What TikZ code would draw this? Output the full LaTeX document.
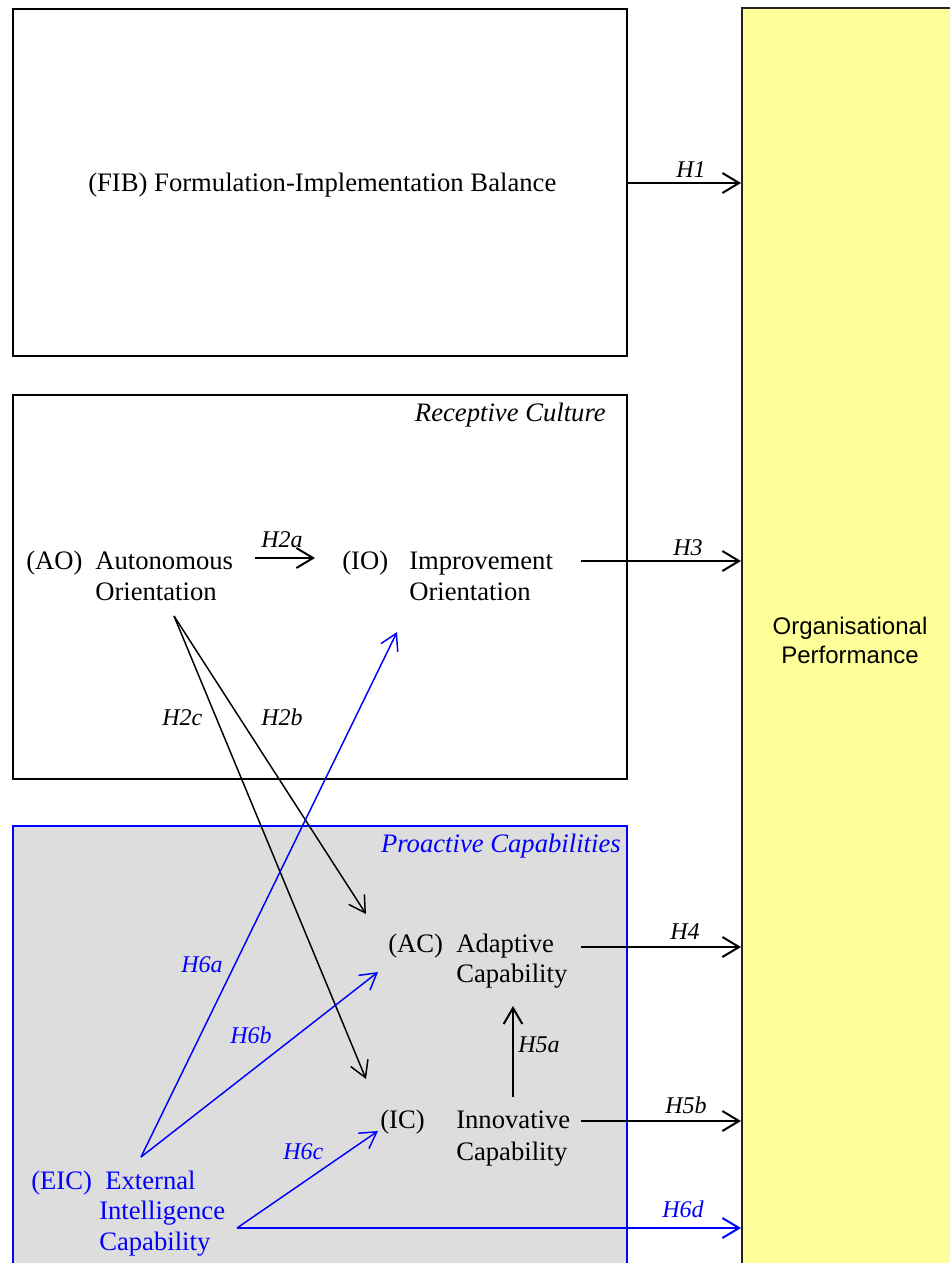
\documentclass[tikz,border=0pt]{standalone}
\usepackage{fontspec}
\setmainfont{Liberation Serif}
\newfontfamily\arialfont{Liberation Sans}
\usetikzlibrary{arrows.meta}
\definecolor{opyellow}{HTML}{FFFF99}
\definecolor{pcgray}{HTML}{DDDDDD}
\definecolor{pblue}{HTML}{0000FF}
\definecolor{opborder}{HTML}{222222}
\begin{document}
\begin{tikzpicture}[x=0.75pt,y=-0.75pt,
  maintext/.style={font=\fontsize{20}{23}\selectfont, inner sep=0pt, anchor=base west},
  boxtitle/.style={font=\fontsize{20}{23}\selectfont\itshape, inner sep=0pt, anchor=base east},
  lbl/.style={font=\fontsize{18}{21}\selectfont\itshape, inner sep=0pt, anchor=base west},
  optext/.style={font=\arialfont\fontsize{18}{21}\selectfont, inner sep=0pt, anchor=base},
  harrow/.style={line width=1.5pt, -{Straight Barb[length=12.5pt,width=15pt]}},
  darrow/.style={line width=1.1pt, -{Straight Barb[length=12pt,width=14pt]}},
  boxline/.style={line width=1.5pt}
]
\useasboundingbox (0,0) rectangle (950,1263);

% Organisational Performance box
\fill[opyellow] (742,8) rectangle (950,1263);
\draw[boxline, opborder] (742,1263) -- (742,8) -- (950,8);
\node[optext] (op1) at (850,634) {Organisational};
\node[optext] (op2) at (850,663) {Performance};

% FIB box
\draw[boxline] (13,9) rectangle (627,356);
\node[maintext] (fib) at (88,191) {(FIB) Formulation-Implementation Balance};

% Receptive Culture box
\draw[boxline] (13,395) rectangle (627,779);
\node[boxtitle] (rc) at (606,421) {Receptive Culture};

% Proactive Capabilities box
\fill[pcgray] (13,826) rectangle (627,1263);
\draw[boxline, pblue] (13,1263) -- (13,826) -- (627,826) -- (627,1263);
\node[boxtitle, text=pblue] (pc) at (621,852) {Proactive Capabilities};

% Construct texts
\node[maintext] (aotag) at (26,569) {(AO)};
\node[maintext] (ao1) at (95,569) {Autonomous};
\node[maintext] (ao2) at (95,600) {Orientation};
\node[maintext] (iotag) at (342,569) {(IO)};
\node[maintext] (io1) at (409,569) {Improvement};
\node[maintext] (io2) at (409,600) {Orientation};
\node[maintext] (actag) at (388,952) {(AC)};
\node[maintext] (ac1) at (456,952) {Adaptive};
\node[maintext] (ac2) at (456,982) {Capability};
\node[maintext] (ictag) at (380,1128) {(IC)};
\node[maintext] (ic1) at (456,1128) {Innovative};
\node[maintext] (ic2) at (456,1160) {Capability};
\node[maintext, text=pblue] (eictag) at (31,1189) {(EIC)};
\node[maintext, text=pblue] (eic1) at (105,1189) {External};
\node[maintext, text=pblue] (eic2) at (99,1219) {Intelligence};
\node[maintext, text=pblue] (eic3) at (99,1250) {Capability};

% Connector end points
\coordinate (fibout) at (627,183);
\coordinate (opin1) at (741,183);
\coordinate (aoright) at (255,558);
\coordinate (ioleft) at (315,558);
\coordinate (ioout) at (581,561);
\coordinate (opin3) at (741,561);
\coordinate (aobottom) at (174,616);
\coordinate (acin1) at (366,914);
\coordinate (icin1) at (366,1079);
\coordinate (acout) at (581,947);
\coordinate (opin4) at (741,947);
\coordinate (ictop) at (513,1097);
\coordinate (acbottom) at (513,1006);
\coordinate (icout) at (581,1121);
\coordinate (opin5) at (741,1121);
\coordinate (eictop) at (141,1157);
\coordinate (iobottom) at (397,632);
\coordinate (acin2) at (378,972);
\coordinate (eicright) at (237,1228);
\coordinate (icin2) at (378,1131);
\coordinate (opin6) at (741,1228);

% Black connectors
\draw[harrow] (fibout) -- (opin1);
\draw[harrow] (aoright) -- (ioleft);
\draw[harrow] (ioout) -- (opin3);
\draw[darrow] (aobottom) -- (acin1);
\draw[darrow] (aobottom) -- (icin1);
\draw[harrow] (acout) -- (opin4);
\draw[darrow, line width=1.5pt] (ictop) -- (acbottom);
\draw[harrow] (icout) -- (opin5);

% Blue connectors
\draw[darrow, pblue] (eictop) -- (iobottom);
\draw[darrow, pblue] (eictop) -- (acin2);
\draw[darrow, pblue] (eicright) -- (icin2);
\draw[harrow, pblue] (eicright) -- (opin6);

% Labels
\node[lbl] (lh1) at (676,177) {H1};
\node[lbl] (lh2a) at (261,547) {H2a};
\node[lbl] (lh3) at (673,555) {H3};
\node[lbl] (lh2b) at (261,725) {H2b};
\node[lbl] (lh2c) at (162,725) {H2c};
\node[lbl] (lh4) at (670,939) {H4};
\node[lbl] (lh5a) at (518,1052) {H5a};
\node[lbl] (lh5b) at (665,1113) {H5b};
\node[lbl, text=pblue] (lh6a) at (181,972) {H6a};
\node[lbl, text=pblue] (lh6b) at (230,1043) {H6b};
\node[lbl, text=pblue] (lh6c) at (283,1159) {H6c};
\node[lbl, text=pblue] (lh6d) at (662,1217) {H6d};
\end{tikzpicture}
\end{document}
